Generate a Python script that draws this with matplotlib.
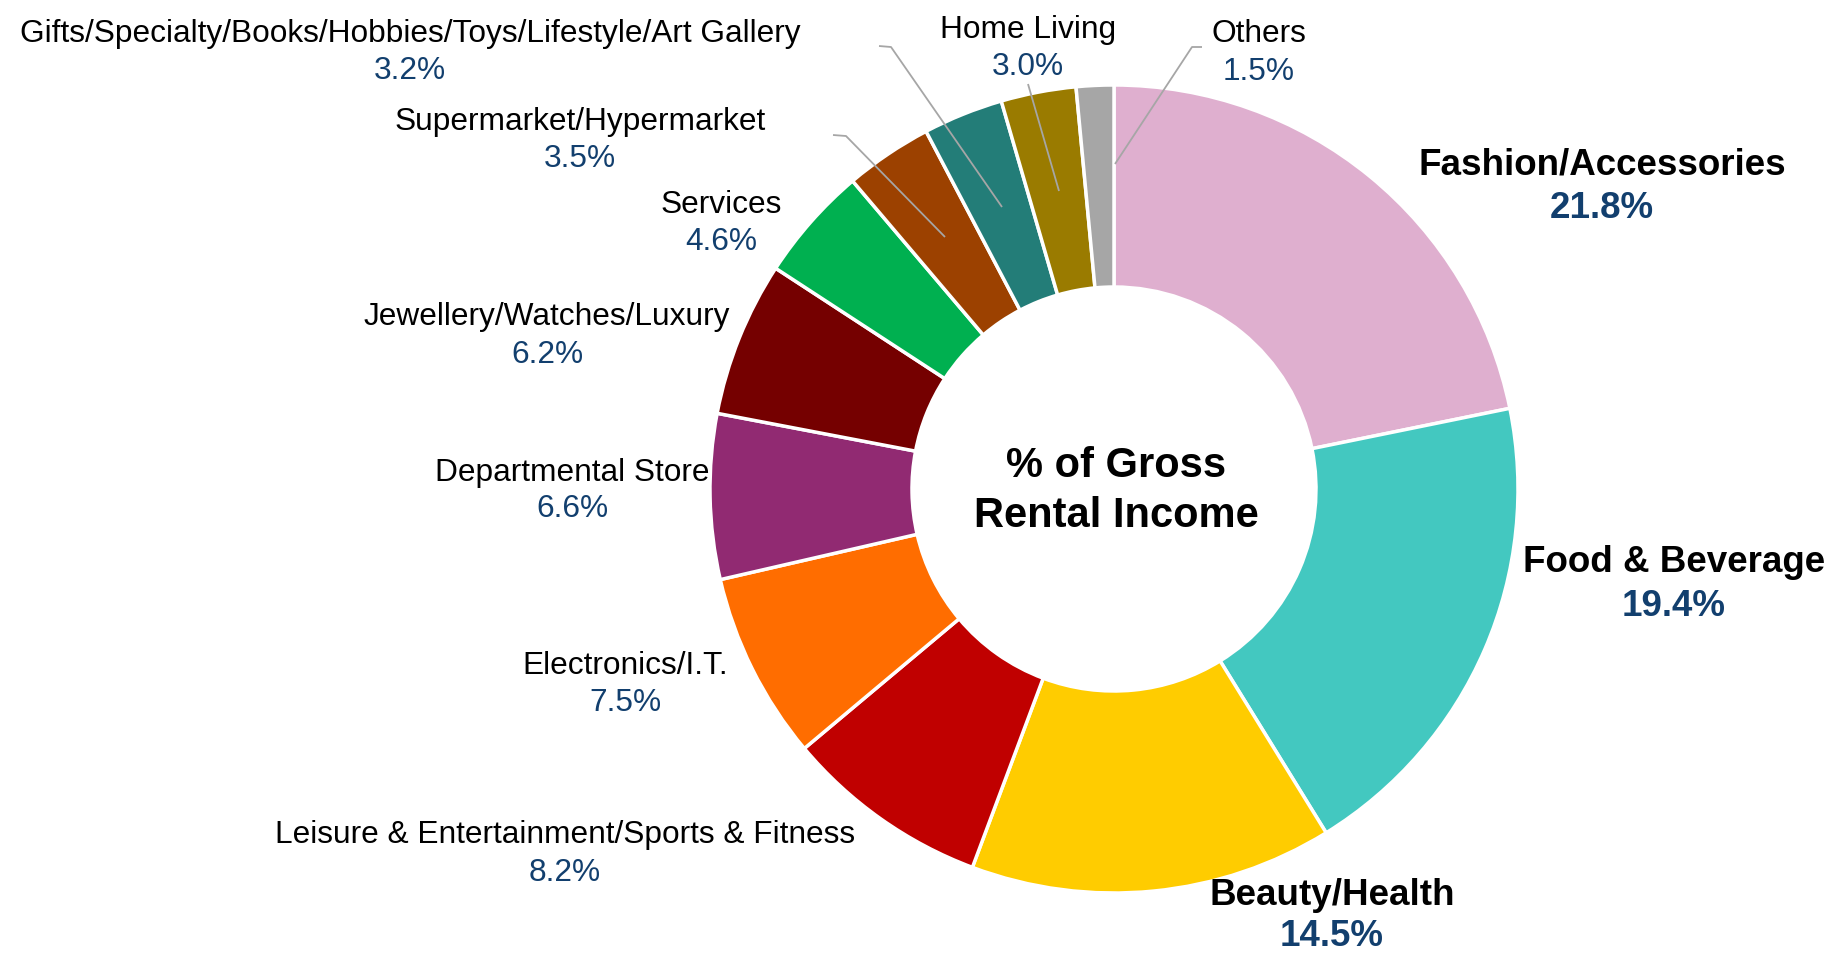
import matplotlib
matplotlib.use("Agg")
import matplotlib.pyplot as plt

plt.rcParams['font.family'] = ['Liberation Sans', 'DejaVu Sans']

categories = [
    "Fashion/Accessories", "Food & Beverage", "Beauty/Health",
    "Leisure & Entertainment/Sports & Fitness", "Electronics/I.T.",
    "Departmental Store", "Jewellery/Watches/Luxury", "Services",
    "Supermarket/Hypermarket",
    "Gifts/Specialty/Books/Hobbies/Toys/Lifestyle/Art Gallery",
    "Home Living", "Others",
]
shares = [21.8, 19.4, 14.5, 8.2, 7.5, 6.6, 6.2, 4.6, 3.5, 3.2, 3.0, 1.5]
colors = ["#DFAFCF", "#43C8C0", "#FFCC00", "#C00000", "#FF6D00", "#912A72",
          "#750000", "#00B050", "#9C4100", "#237D78", "#9A7B00", "#A6A6A6"]
bold_flags = [True, True, True, False, False, False, False, False, False,
              False, False, False]

W, H = 1833, 954
fig = plt.figure(figsize=(W / 100, H / 100), dpi=100)
ax = fig.add_axes([0, 0, 1, 1])

cx, cy, R = 1114, H - 490, 404
ax.pie(shares, colors=colors, radius=R, center=(cx, cy), startangle=90,
       counterclock=False,
       wedgeprops=dict(width=R * 0.5, edgecolor="white", linewidth=2.5))
ax.set_xlim(0, W)
ax.set_ylim(0, H)
ax.set_aspect("equal")
ax.axis("off")

# label anchor positions (pixel coords from the top-left), name line / value line
label_pos = [
    (1602, 165, 209), (1674, 562, 606), (1332, 896, 937),
    (565, 835, 873), (625, 666, 703), (572, 473, 509),
    (547, 317, 355), (721, 205, 242), (580, 122, 159),
    (410, 34, 71), (1028, 30, 67), (1259, 34, 72),
]
value_color = "#123F6E"
for name, val, (x, y1, y2), bold in zip(categories, shares, label_pos, bold_flags):
    size = 26.5 if bold else 22.8
    weight = "bold" if bold else "normal"
    ax.text(x, H - y1, name, ha="center", va="center", fontsize=size,
            fontweight=weight, color="black")
    ax.text(x, H - y2, f"{val:.1f}%", ha="center", va="center", fontsize=size,
            fontweight=weight, color=value_color)

# leader lines for the small top slices
leaders = [
    [(879, 47), (891, 48), (1002, 208)],
    [(1028, 85), (1059, 192)],
    [(1202, 48), (1192, 48), (1115, 165)],
    [(833, 136), (846, 137), (945, 238)],
]
for pts in leaders:
    xs = [p[0] for p in pts]
    ys = [H - p[1] for p in pts]
    ax.plot(xs, ys, color="#A6A6A6", linewidth=1.3, solid_capstyle="butt")

ax.text(1116, H - 466, "% of Gross", ha="center", va="center", fontsize=30,
        fontweight="bold")
ax.text(1116, H - 516, "Rental Income", ha="center", va="center", fontsize=30,
        fontweight="bold")

fig.savefig("out.png", dpi=100, facecolor="white")
